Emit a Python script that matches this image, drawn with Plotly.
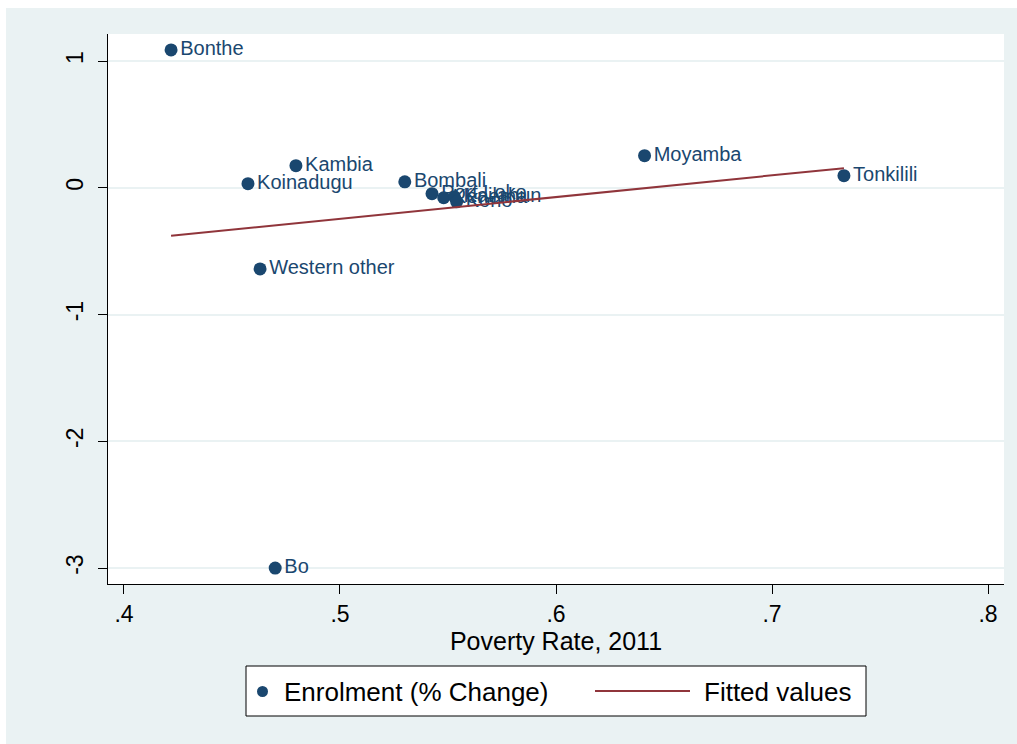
import numpy as np
import plotly.graph_objects as go

# District-level data: poverty rate (2011) and change in enrolment
districts = ["Bonthe", "Kambia", "Koinadugu", "Bombali", "Moyamba", "Tonkilili",
             "Western other", "Bo", "Port Loko", "Kenema", "Kailahun", "Kono"]
poverty = [0.4218, 0.4796, 0.4574, 0.530, 0.641, 0.7333,
           0.463, 0.470, 0.5426, 0.548, 0.553, 0.554]
enrolment = [1.087, 0.174, 0.032, 0.047, 0.253, 0.095,
             -0.640, -3.0, -0.047, -0.079, -0.071, -0.111]

x_ticks = [0.4, 0.5, 0.6, 0.7, 0.8]
x_ticklabels = [".4", ".5", ".6", ".7", ".8"]
y_ticks = [-3, -2, -1, 0, 1]
y_ticklabels = ["-3", "-2", "-1", "0", "1"]

NAVY = "#1a476f"
MAROON = "#90353b"
BG = "#eaf2f3"
FONT = "Liberation Sans, Arial, sans-serif"

# Linear fit (OLS) of enrolment change on poverty rate
xs = np.array(poverty)
ys = np.array(enrolment)
slope, intercept = np.polyfit(xs, ys, 1)
order = np.argsort(xs)
fit_x = xs[order]
fit_y = intercept + slope * fit_x

fig = go.Figure()
fig.add_trace(go.Scatter(
    x=poverty, y=enrolment, mode="markers+text", text=districts,
    textposition="middle right",
    textfont=dict(family=FONT, size=20, color=NAVY),
    marker=dict(color=NAVY, size=13),
    name="Enrolment (% Change)", showlegend=False, cliponaxis=False,
))
fig.add_trace(go.Scatter(
    x=fit_x, y=fit_y, mode="lines",
    line=dict(color=MAROON, width=2),
    name="Fitted values", showlegend=False,
))

# pixel -> paper conversion for the plot area (108..1004 x 34..584)
L, R, T, B = 108, 1004, 34, 584
def px(v):
    return (v - L) / (R - L)
def py(v):
    return (B - v) / (B - T)

shapes = [
    # white outer strips
    dict(type="rect", xref="paper", yref="paper", x0=px(0), x1=px(1017), y0=py(8), y1=py(0),
         fillcolor="white", line=dict(width=0), layer="below"),
    dict(type="rect", xref="paper", yref="paper", x0=px(0), x1=px(6), y0=py(744), y1=py(0),
         fillcolor="white", line=dict(width=0), layer="below"),
    # legend box
    dict(type="rect", xref="paper", yref="paper", x0=px(246), x1=px(866), y0=py(716), y1=py(666),
         fillcolor="white", line=dict(color="black", width=1)),
    dict(type="circle", xref="paper", yref="paper", x0=px(257), x1=px(268), y0=py(697), y1=py(686),
         fillcolor=NAVY, line=dict(width=0)),
    dict(type="line", xref="paper", yref="paper", x0=px(595), x1=px(690), y0=py(691), y1=py(691),
         line=dict(color=MAROON, width=2)),
]

annotations = [
    dict(text="Enrolment (% Change)", xref="paper", yref="paper", x=px(282), y=py(692),
         xanchor="left", yanchor="middle", showarrow=False,
         font=dict(family=FONT, size=26, color="black")),
    dict(text="Fitted values", xref="paper", yref="paper", x=px(702), y=py(692),
         xanchor="left", yanchor="middle", showarrow=False,
         font=dict(family=FONT, size=26, color="black")),
]

fig.update_layout(
    width=1017, height=744,
    margin=dict(l=L, r=1017 - R, t=T, b=744 - B),
    paper_bgcolor=BG, plot_bgcolor="white",
    showlegend=False,
    shapes=shapes, annotations=annotations,
    xaxis=dict(
        range=[0.3926, 0.8074], tickvals=x_ticks, ticktext=x_ticklabels,
        showgrid=False, zeroline=False, showline=True, linecolor="black", linewidth=1,
        ticks="outside", ticklen=9, tickcolor="black",
        tickfont=dict(family=FONT, size=23, color="black"),
        title=dict(text="Poverty Rate, 2011", standoff=4,
                   font=dict(family=FONT, size=25, color="black")),
    ),
    yaxis=dict(
        range=[-3.126, 1.213], tickvals=y_ticks, ticktext=y_ticklabels, tickangle=-90,
        showgrid=True, gridcolor=BG, gridwidth=2, zeroline=False,
        showline=True, linecolor="black", linewidth=1,
        ticks="outside", ticklen=9, tickcolor="black", ticklabelstandoff=6,
        tickfont=dict(family=FONT, size=23, color="black"),
    ),
)

fig.write_html("out.html")
